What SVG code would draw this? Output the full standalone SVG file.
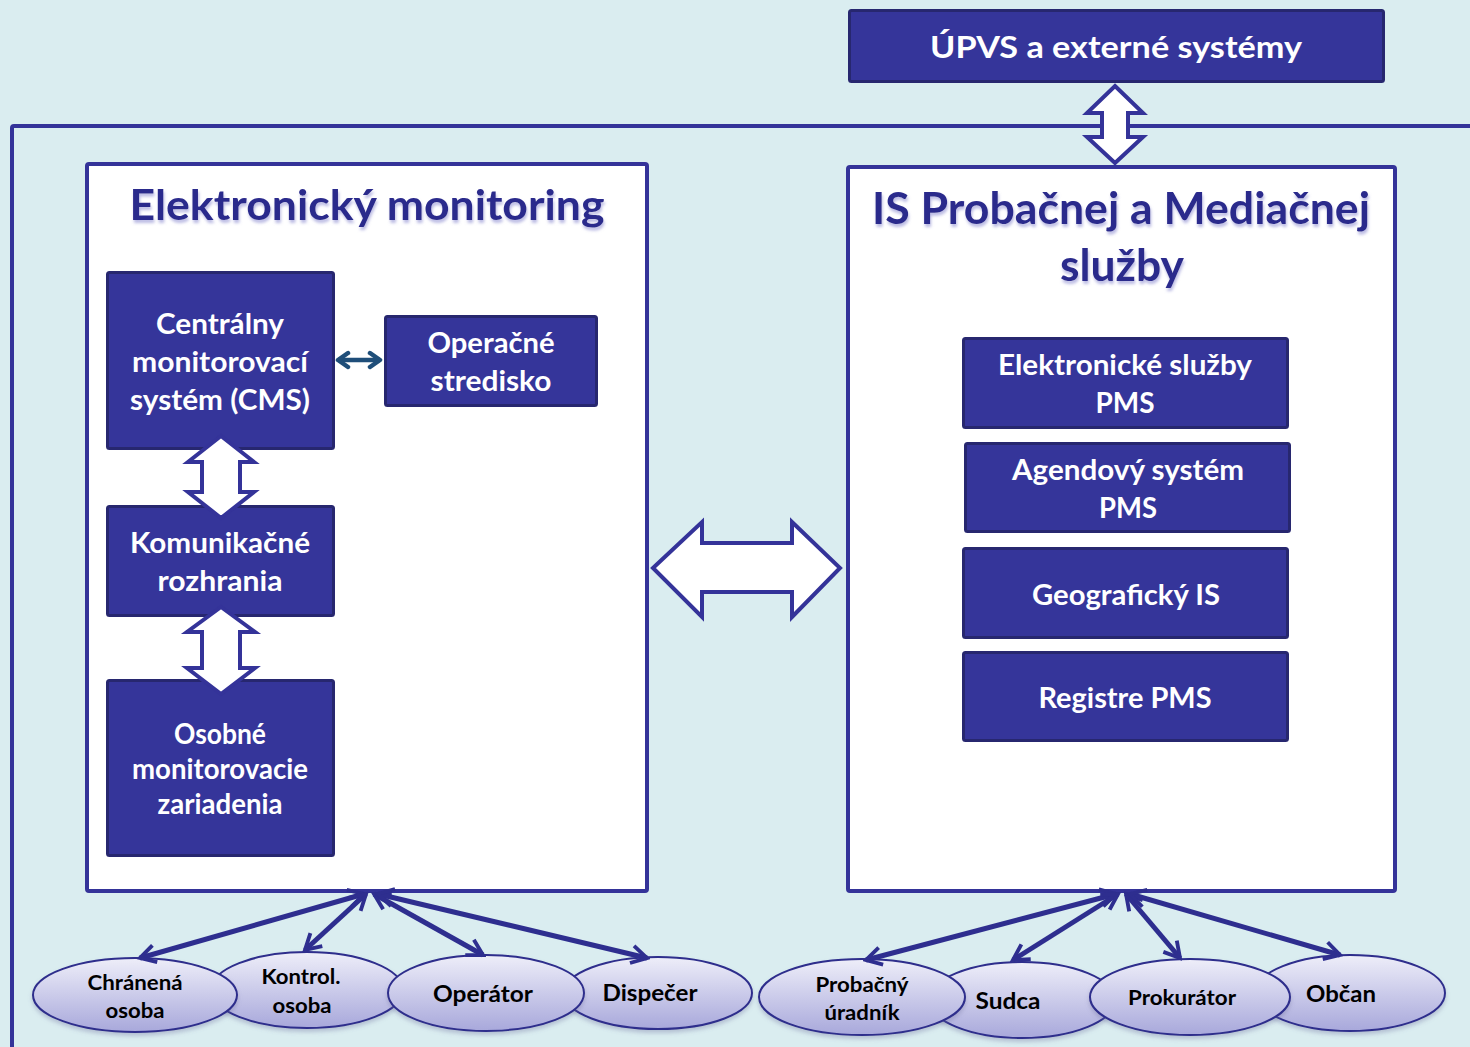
<svg xmlns="http://www.w3.org/2000/svg" width="1470" height="1047" viewBox="0 0 1470 1047">
<defs>
<style>
.bg{fill:#DAEDF0}
.frame{fill:none;stroke:#343399;stroke-width:4}
.panel{fill:#FFFFFF;stroke:#343399;stroke-width:4}
.box{fill:#35359A;stroke:#27276F;stroke-width:3}
.bt{font-family:Lato,"Open Sans","Liberation Sans",sans-serif;font-weight:700;fill:#FFFFFF;text-anchor:middle}
.title{font-family:Lato,"Open Sans","Liberation Sans",sans-serif;font-weight:700;fill:#2B2A8C;text-anchor:middle;filter:url(#tsh)}
.blk{fill:#FFFFFF;stroke:#343399;stroke-width:4;stroke-linejoin:miter}
.ell{fill:url(#eg);stroke:#2D2D8C;stroke-width:2;filter:url(#esh)}
.et{font-family:Lato,"Open Sans","Liberation Sans",sans-serif;font-weight:700;fill:#000000;text-anchor:middle}
.con{stroke:#2E2E8F;stroke-width:5;fill:none;marker-start:url(#ah);marker-end:url(#ah)}
</style>
<linearGradient id="eg" x1="0" y1="0" x2="0" y2="1">
<stop offset="0" stop-color="#EEEEF9"/>
<stop offset="1" stop-color="#A8A8DB"/>
</linearGradient>
<filter id="tsh" x="-5%" y="-20%" width="110%" height="150%">
<feDropShadow dx="1" dy="3" stdDeviation="1.5" flood-color="#8E8ED0" flood-opacity="0.6"/>
</filter>
<filter id="esh" x="-10%" y="-10%" width="120%" height="130%">
<feDropShadow dx="0" dy="3" stdDeviation="2" flood-color="#6A6A9A" flood-opacity="0.35"/>
</filter>
<marker id="ah" viewBox="0 0 20 20" refX="17" refY="10" markerWidth="22" markerHeight="22" markerUnits="userSpaceOnUse" orient="auto-start-reverse">
<path d="M3,2 L17,10 L3,18" fill="none" stroke="#2E2E8F" stroke-width="3.5" stroke-linejoin="miter"/>
</marker>
<marker id="sa" viewBox="0 0 20 20" refX="15" refY="10" markerWidth="20" markerHeight="20" markerUnits="userSpaceOnUse" orient="auto-start-reverse">
<path d="M5,3 L15,10 L5,17" fill="none" stroke="#1F4E79" stroke-width="4.5" stroke-linecap="round" stroke-linejoin="round"/>
</marker>
</defs>

<rect class="bg" x="0" y="0" width="1470" height="1047"/>
<path class="frame" d="M12,1050 L12,128 Q12,126 14,126 L1472,126"/>

<g id="upvs">
<rect class="box" x="849.5" y="10.5" width="534" height="71" rx="2"/>
<text class="bt" x="1116" y="58" font-size="31" textLength="372" lengthAdjust="spacingAndGlyphs">ÚPVS a externé systémy</text>
</g>

<g id="em-panel">
<rect class="panel" x="87" y="164" width="560" height="727" rx="2"/>
<text class="title" x="367" y="220" font-size="42" textLength="475" lengthAdjust="spacingAndGlyphs">Elektronický monitoring</text>
</g>

<g id="pms-panel">
<rect class="panel" x="848" y="167" width="547" height="724" rx="2"/>
<text class="title" x="1121" y="224" font-size="43" textLength="498" lengthAdjust="spacingAndGlyphs">IS Probačnej a Mediačnej</text>
<text class="title" x="1122" y="281" font-size="43" textLength="124" lengthAdjust="spacingAndGlyphs">služby</text>
</g>

<g id="cms">
<rect class="box" x="107.5" y="272.5" width="226" height="176" rx="2"/>
<text class="bt" x="220" y="334" font-size="29" textLength="128" lengthAdjust="spacingAndGlyphs">Centrálny</text>
<text class="bt" x="220" y="372" font-size="29" textLength="176" lengthAdjust="spacingAndGlyphs">monitorovací</text>
<text class="bt" x="220" y="410" font-size="29" textLength="180" lengthAdjust="spacingAndGlyphs">systém (CMS)</text>
</g>

<g id="operacne">
<rect class="box" x="385.5" y="316.5" width="211" height="89" rx="2"/>
<text class="bt" x="491" y="353" font-size="29" textLength="127" lengthAdjust="spacingAndGlyphs">Operačné</text>
<text class="bt" x="491" y="391" font-size="29" textLength="121" lengthAdjust="spacingAndGlyphs">stredisko</text>
</g>

<g id="komunikacne">
<rect class="box" x="107.5" y="506.5" width="226" height="109" rx="2"/>
<text class="bt" x="220" y="553" font-size="29" textLength="180" lengthAdjust="spacingAndGlyphs">Komunikačné</text>
<text class="bt" x="220" y="591" font-size="29" textLength="125" lengthAdjust="spacingAndGlyphs">rozhrania</text>
</g>

<g id="osobne">
<rect class="box" x="107.5" y="680.5" width="226" height="175" rx="2"/>
<text class="bt" x="220" y="744" font-size="28" textLength="92" lengthAdjust="spacingAndGlyphs">Osobné</text>
<text class="bt" x="220" y="779" font-size="28" textLength="176" lengthAdjust="spacingAndGlyphs">monitorovacie</text>
<text class="bt" x="220" y="814" font-size="28" textLength="125" lengthAdjust="spacingAndGlyphs">zariadenia</text>
</g>

<g id="es-pms">
<rect class="box" x="963.5" y="338.5" width="324" height="89" rx="2"/>
<text class="bt" x="1125" y="375" font-size="29" textLength="254" lengthAdjust="spacingAndGlyphs">Elektronické služby</text>
<text class="bt" x="1125" y="413" font-size="29" textLength="59" lengthAdjust="spacingAndGlyphs">PMS</text>
</g>

<g id="as-pms">
<rect class="box" x="965.5" y="443.5" width="324" height="88" rx="2"/>
<text class="bt" x="1128" y="480" font-size="29" textLength="232" lengthAdjust="spacingAndGlyphs">Agendový systém</text>
<text class="bt" x="1128" y="518" font-size="29" textLength="58" lengthAdjust="spacingAndGlyphs">PMS</text>
</g>

<g id="geo-is">
<rect class="box" x="963.5" y="548.5" width="324" height="89" rx="2"/>
<text class="bt" x="1126" y="605" font-size="29" textLength="188" lengthAdjust="spacingAndGlyphs">Geografický IS</text>
</g>

<g id="registre">
<rect class="box" x="963.5" y="652.5" width="324" height="88" rx="2"/>
<text class="bt" x="1125" y="708" font-size="29" textLength="173" lengthAdjust="spacingAndGlyphs">Registre PMS</text>
</g>

<g id="ellipses-left">
<g id="kontrol">
<ellipse class="ell" cx="307" cy="990" rx="96" ry="38"/>
<text class="et" x="301" y="984" font-size="21" textLength="79" lengthAdjust="spacingAndGlyphs">Kontrol.</text>
<text class="et" x="302" y="1013" font-size="21" textLength="59" lengthAdjust="spacingAndGlyphs">osoba</text>
</g>
<g id="chranena">
<ellipse class="ell" cx="135" cy="995" rx="102" ry="37"/>
<text class="et" x="135" y="990" font-size="21" textLength="95" lengthAdjust="spacingAndGlyphs">Chránená</text>
<text class="et" x="135" y="1018" font-size="21" textLength="59" lengthAdjust="spacingAndGlyphs">osoba</text>
</g>
<g id="dispecer">
<ellipse class="ell" cx="658" cy="993" rx="94" ry="36"/>
<text class="et" x="650" y="1001" font-size="23" textLength="95" lengthAdjust="spacingAndGlyphs">Dispečer</text>
</g>
<g id="operator">
<ellipse class="ell" cx="486" cy="993" rx="98" ry="38"/>
<text class="et" x="483" y="1002" font-size="23" textLength="100" lengthAdjust="spacingAndGlyphs">Operátor</text>
</g>
</g>

<g id="ellipses-right">
<g id="sudca">
<ellipse class="ell" cx="1022" cy="1000" rx="93" ry="38"/>
<text class="et" x="1008" y="1009" font-size="23" textLength="65" lengthAdjust="spacingAndGlyphs">Sudca</text>
</g>
<g id="obcan">
<ellipse class="ell" cx="1350" cy="993" rx="95" ry="38"/>
<text class="et" x="1341" y="1002" font-size="23" textLength="70" lengthAdjust="spacingAndGlyphs">Občan</text>
</g>
<g id="probacny">
<ellipse class="ell" cx="862" cy="997" rx="103" ry="38"/>
<text class="et" x="862" y="992" font-size="21" textLength="93" lengthAdjust="spacingAndGlyphs">Probačný</text>
<text class="et" x="862" y="1020" font-size="21" textLength="75" lengthAdjust="spacingAndGlyphs">úradník</text>
</g>
<g id="prokurator">
<ellipse class="ell" cx="1190" cy="997" rx="100" ry="38"/>
<text class="et" x="1182" y="1005" font-size="21" textLength="108" lengthAdjust="spacingAndGlyphs">Prokurátor</text>
</g>
</g>

<g id="connectors">
<polygon class="blk" stroke-width="3" points="1115,86 1143,113 1128,113 1128,137 1143,137 1115,163 1087,137 1102,137 1102,113 1087,113"/>
<polygon class="blk" points="221,436 254,462 240,462 240,492 254,492 221,518 188,492 202,492 202,462 188,462"/>
<polygon class="blk" points="221,607 255,632 240,632 240,668 255,668 221,694 187,668 202,668 202,632 187,632"/>
<polygon class="blk" points="653,568 702,522 702,543 792,543 792,522 840,568 792,617 792,592 702,592 702,617"/>
<line x1="338" y1="360" x2="380" y2="360" stroke="#1F4E79" stroke-width="4.5" marker-start="url(#sa)" marker-end="url(#sa)"/>
<line class="con" x1="364" y1="894" x2="140" y2="958"/>
<line class="con" x1="366" y1="894" x2="305" y2="950"/>
<line class="con" x1="374" y1="894" x2="483" y2="955"/>
<line class="con" x1="378" y1="894" x2="647" y2="958"/>
<line class="con" x1="1116" y1="894" x2="866" y2="960"/>
<line class="con" x1="1118" y1="894" x2="1013" y2="960"/>
<line class="con" x1="1126" y1="894" x2="1180" y2="958"/>
<line class="con" x1="1130" y1="894" x2="1340" y2="955"/>
</g>
</svg>
